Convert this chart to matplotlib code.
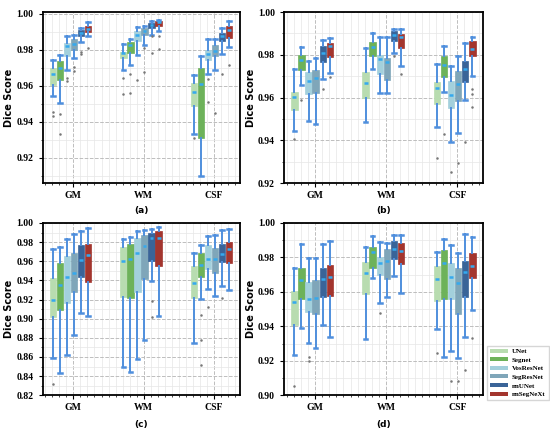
import matplotlib.pyplot as plt
from matplotlib.ticker import MultipleLocator, FormatStrFormatter
from matplotlib.patches import Patch

models = ['UNet', 'Segnet', 'VosResNet', 'SegResNet', 'nnUNet', 'nnSegNeXt']
tissues = ['GM', 'WM', 'CSF']
colors = ['#b8dcb0', '#6db25a', '#a3d0dc', '#7fa6b9', '#3a6498', '#a3352e']

# (whislo, q1, median, q3, whishi) per model
a_gm = [(0.9545, 0.9605, 0.9665, 0.9700, 0.9745), (0.9505, 0.9630, 0.9700, 0.9740, 0.9770),
        (0.9690, 0.9765, 0.9820, 0.9840, 0.9875), (0.9755, 0.9800, 0.9835, 0.9860, 0.9885),
        (0.9845, 0.9875, 0.9895, 0.9910, 0.9920), (0.9875, 0.9900, 0.9915, 0.9935, 0.9955)]
a_wm = [(0.9690, 0.9755, 0.9780, 0.9790, 0.9830), (0.9718, 0.9780, 0.9825, 0.9843, 0.9860),
        (0.9770, 0.9850, 0.9884, 0.9906, 0.9926), (0.9829, 0.9880, 0.9906, 0.9924, 0.9935),
        (0.9884, 0.9920, 0.9940, 0.9948, 0.9958), (0.9906, 0.9935, 0.9952, 0.9960, 0.9967)]
a_csf = [(0.9330, 0.9488, 0.9567, 0.9617, 0.9660), (0.9097, 0.9312, 0.9610, 0.9700, 0.9764),
         (0.9666, 0.9745, 0.9776, 0.9800, 0.9860), (0.9687, 0.9764, 0.9795, 0.9829, 0.9860),
         (0.9777, 0.9847, 0.9875, 0.9893, 0.9924), (0.9814, 0.9865, 0.9912, 0.9935, 0.9958)]
a_gm_out = [[0.9455, 0.9435], [0.9445, 0.9335], [0.9645, 0.9625], [0.9705, 0.968], [0.979, 0.9775], [0.981]]
a_wm_out = [[0.9645, 0.9552], [0.9666, 0.956], [0.963], [0.981, 0.9678], [0.9875, 0.978], [0.9875, 0.9805]]
a_csf_out = [[0.931], [], [0.9638, 0.951], [0.945], [0.9666], [0.9718]]

b_gm = [(0.9444, 0.9542, 0.9602, 0.9626, 0.9734), (0.9657, 0.9728, 0.9775, 0.9800, 0.9837),
        (0.9490, 0.9615, 0.9677, 0.9719, 0.9770), (0.9475, 0.9620, 0.9692, 0.9727, 0.9786),
        (0.9688, 0.9765, 0.9809, 0.9840, 0.9871), (0.9716, 0.9790, 0.9840, 0.9856, 0.9879)]
b_wm = [(0.9486, 0.9600, 0.9669, 0.9719, 0.9832), (0.9734, 0.9793, 0.9837, 0.9859, 0.9902),
        (0.9620, 0.9708, 0.9780, 0.9800, 0.9883), (0.9620, 0.9682, 0.9765, 0.9786, 0.9883),
        (0.9809, 0.9863, 0.9894, 0.9910, 0.9921), (0.9747, 0.9832, 0.9882, 0.9899, 0.9921)]
b_csf = [(0.9462, 0.9568, 0.9646, 0.9672, 0.9758), (0.9626, 0.9697, 0.9750, 0.9793, 0.9840),
         (0.9393, 0.9553, 0.9612, 0.9677, 0.9747), (0.9436, 0.9584, 0.9661, 0.9723, 0.9796),
         (0.9588, 0.9672, 0.9734, 0.9770, 0.9856), (0.9700, 0.9793, 0.9828, 0.9863, 0.9883)]
b_gm_out = [[0.9408], [0.9587], [], [], [0.9638], [0.9696]]
b_wm_out = [[], [], [], [], [0.9793], [0.9708]]
b_csf_out = [[0.9315], [0.9431], [0.9253], [0.9292], [0.9393], [0.9641, 0.9615, 0.9556]]

c_gm = [(0.8593, 0.9015, 0.9200, 0.9429, 0.9725), (0.8430, 0.9095, 0.9349, 0.9586, 0.9753),
        (0.8621, 0.9160, 0.9440, 0.9655, 0.9830), (0.8830, 0.9276, 0.9480, 0.9683, 0.9882),
        (0.9063, 0.9440, 0.9614, 0.9770, 0.9920), (0.9032, 0.9387, 0.9669, 0.9780, 0.9944)]
c_wm = [(0.8500, 0.9224, 0.9607, 0.9746, 0.9830), (0.8444, 0.9217, 0.9627, 0.9780, 0.9857),
        (0.8576, 0.9276, 0.9683, 0.9840, 0.9920), (0.8778, 0.9412, 0.9760, 0.9871, 0.9927),
        (0.9394, 0.9607, 0.9840, 0.9892, 0.9941), (0.9032, 0.9551, 0.9840, 0.9916, 0.9962)]
c_csf = [(0.8750, 0.9220, 0.9370, 0.9551, 0.9683), (0.9210, 0.9440, 0.9565, 0.9683, 0.9770),
         (0.9310, 0.9516, 0.9624, 0.9770, 0.9864), (0.9237, 0.9474, 0.9624, 0.9739, 0.9875),
         (0.9342, 0.9589, 0.9673, 0.9780, 0.9927), (0.9300, 0.9586, 0.9728, 0.9805, 0.9937)]
c_gm_out = [[0.8318], [], [], [], [], []]
c_wm_out = [[], [], [], [], [0.9185, 0.9022], []]
c_csf_out = [[], [0.904, 0.8778, 0.8517], [0.9126], [], [0.9217], []]

d_gm = [(0.9234, 0.9408, 0.9540, 0.9605, 0.9737), (0.9389, 0.9561, 0.9667, 0.9737, 0.9876),
        (0.9302, 0.9485, 0.9559, 0.9660, 0.9795), (0.9273, 0.9470, 0.9567, 0.9667, 0.9795),
        (0.9408, 0.9569, 0.9677, 0.9737, 0.9878), (0.9337, 0.9576, 0.9689, 0.9756, 0.9897)]
d_wm = [(0.9327, 0.9588, 0.9712, 0.9776, 0.9863), (0.9683, 0.9737, 0.9830, 0.9859, 0.9926),
        (0.9534, 0.9698, 0.9766, 0.9805, 0.9890), (0.9569, 0.9675, 0.9781, 0.9847, 0.9882),
        (0.9694, 0.9793, 0.9847, 0.9897, 0.9930), (0.9596, 0.9760, 0.9839, 0.9886, 0.9930)]
d_csf = [(0.9385, 0.9549, 0.9673, 0.9750, 0.9834), (0.9224, 0.9561, 0.9770, 0.9843, 0.9907),
         (0.9259, 0.9561, 0.9689, 0.9770, 0.9872), (0.9219, 0.9470, 0.9654, 0.9737, 0.9828),
         (0.9337, 0.9569, 0.9714, 0.9778, 0.9934), (0.9493, 0.9683, 0.9750, 0.9826, 0.9921)]
d_gm_out = [[0.9054], [], [0.922, 0.9197], [], [], []]
d_wm_out = [[], [], [0.9478], [], [], []]
d_csf_out = [[0.9244], [], [0.9083], [0.9083], [0.9147], [0.9331]]

panels = [
    ('(a)', [a_gm, a_wm, a_csf], [a_gm_out, a_wm_out, a_csf_out], (0.906, 1.001), -0.162),
    ('(b)', [b_gm, b_wm, b_csf], [b_gm_out, b_wm_out, b_csf_out], (0.92, 1.0), -0.162),
    ('(c)', [c_gm, c_wm, c_csf], [c_gm_out, c_wm_out, c_csf_out], (0.82, 1.0), -0.167),
    ('(d)', [d_gm, d_wm, d_csf], [d_gm_out, d_wm_out, d_csf_out], (0.90, 1.0), -0.167),
]
rects = [[0.0776, 0.5783, 0.358, 0.394], [0.5164, 0.5783, 0.3618, 0.394],
         [0.0776, 0.0892, 0.358, 0.397], [0.5164, 0.0892, 0.3618, 0.397]]

whisker_c = '#4f8fdd'
median_c = '#35a9ee'
serif = 'Liberation Serif'

fig = plt.figure(figsize=(5.5, 4.34), dpi=100)

for (tag, groups, outs, ylim, lab_y), rect in zip(panels, rects):
    ax = fig.add_axes(rect)
    ax.set_axisbelow(True)
    for g, (rows, flo) in enumerate(zip(groups, outs)):
        st = [dict(whislo=r[0], q1=r[1], med=r[2], q3=r[3], whishi=r[4], fliers=f)
              for r, f in zip(rows, flo)]
        pos = [g - 0.04 + (i - 2.5) * 0.1 for i in range(len(models))]
        res = ax.bxp(st, positions=pos, widths=0.09, patch_artist=True, capwidths=0.05,
                     boxprops=dict(linewidth=0.5),
                     whiskerprops=dict(color=whisker_c, linewidth=1.4),
                     capprops=dict(color=whisker_c, linewidth=1.8),
                     medianprops=dict(color=median_c, linewidth=1.8),
                     flierprops=dict(marker='o', markersize=1.8, markerfacecolor='#777777',
                                     markeredgecolor='none'))
        for box, c in zip(res['boxes'], colors):
            box.set_facecolor(c)
            box.set_edgecolor(c)
        for line in res['medians']:
            x = line.get_xdata()
            m = (x[0] + x[1]) / 2
            line.set_xdata([m - 0.028, m + 0.028])

    ax.set_xlim(-0.435, 2.36)
    ax.set_ylim(*ylim)
    ax.set_xticks(range(len(tissues)))
    ax.set_xticklabels(tissues)
    ax.xaxis.set_minor_locator(MultipleLocator(0.1))
    ax.yaxis.set_major_locator(MultipleLocator(0.02))
    ax.yaxis.set_minor_locator(MultipleLocator(0.01))
    ax.yaxis.set_major_formatter(FormatStrFormatter('%.2f'))
    ax.grid(which='major', linestyle='--', color='#bdbdbd', linewidth=0.7)
    ax.grid(which='minor', linestyle='-', color='#e6e6e6', linewidth=0.5)
    ax.tick_params(which='major', length=3, width=0.8)
    ax.tick_params(which='minor', length=1.5, width=0.5)
    ax.tick_params(axis='x', pad=2.5)
    for lbl in ax.get_xticklabels() + ax.get_yticklabels():
        lbl.set_fontfamily(serif)
        lbl.set_fontweight('bold')
        lbl.set_fontsize(7)
    for sp in ax.spines.values():
        sp.set_linewidth(1.3)
    ax.set_ylabel('Dice Score', fontsize=7, fontweight='bold', labelpad=1.5)
    ax.text(0.5, lab_y, tag, transform=ax.transAxes, ha='center', va='center',
            fontsize=6.5, fontweight='bold')

handles = [Patch(facecolor=c, edgecolor='none', label=m) for m, c in zip(models, colors)]
fig.legend(handles=handles, loc='upper left', bbox_to_anchor=(487 / 550, 1 - 346 / 434),
           prop=dict(family=serif, weight='bold', size=5), frameon=True, fancybox=False,
           edgecolor='#cccccc', handlelength=2.6, handleheight=0.5, labelspacing=0.45,
           borderpad=0.4, handletextpad=0.6, borderaxespad=0)

fig.savefig('out.png', dpi=100)
